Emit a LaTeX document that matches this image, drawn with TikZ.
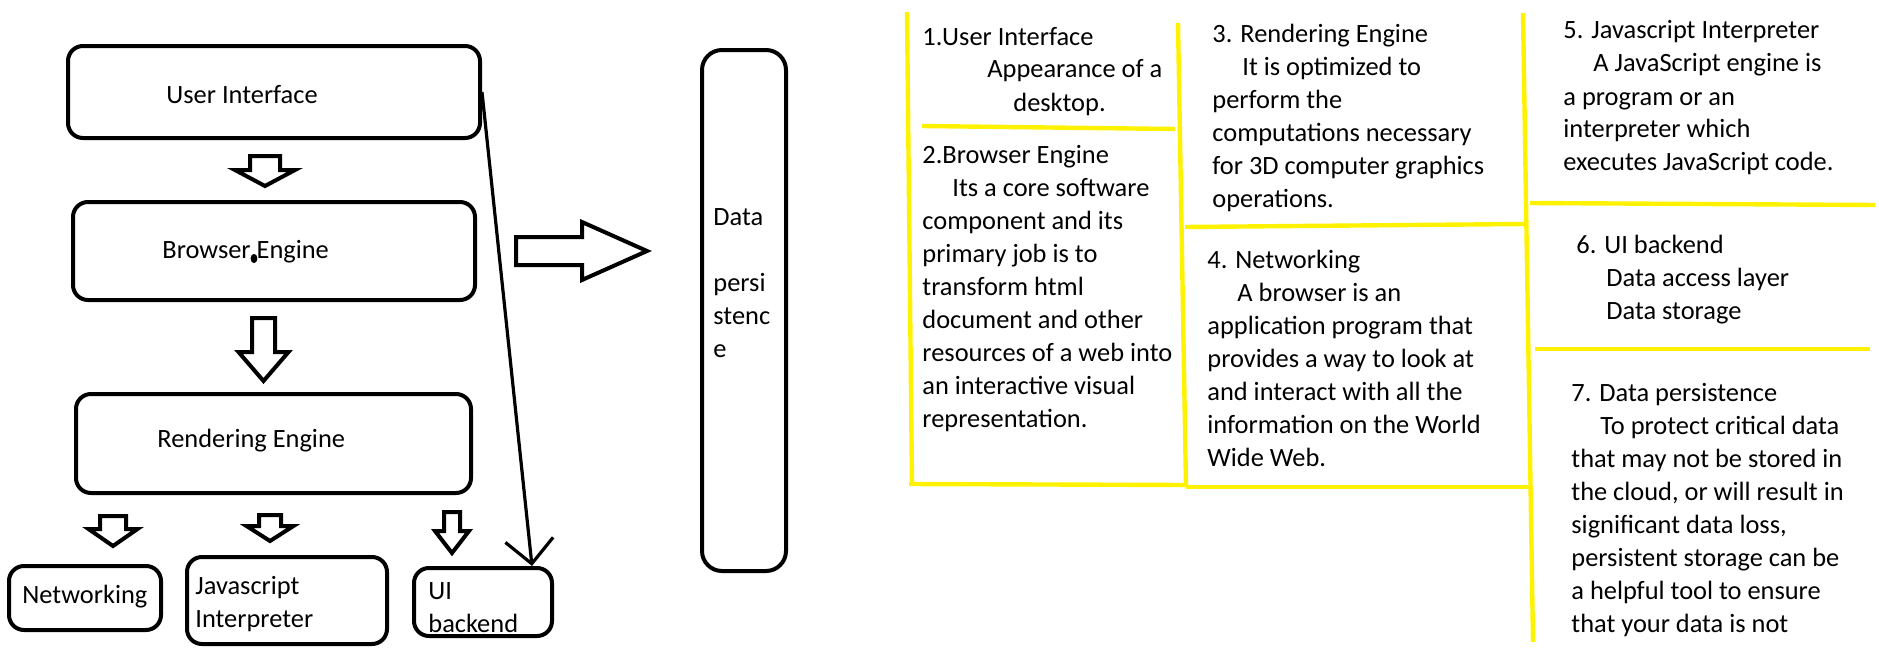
\documentclass[tikz,border=0pt]{standalone}
\usepackage{fontspec}
\setmainfont{Carlito}
\usetikzlibrary{calc,arrows.meta}
\definecolor{pyellow}{RGB}{255,242,0}
\newcommand\fs{\fontsize{13.2pt}{16.5pt}\selectfont}
\newcommand\para[1]{\vtop{\baselineskip=16.5pt\lineskiplimit=-100pt\lineskip=0pt #1}}
\newcommand\ind[1]{\hspace*{#1pt}}
% block arrow pointing down: #1 source anchor, #2 target anchor, #3 x offset, #4 top gap,
% #5 tip gap, #6 shaft half width, #7 head half width, #8 head length
\newcommand\blockdown[8]{%
 \coordinate (bdT) at ($(#1)+(#3,#4)$);
 \coordinate (bdX) at ($(#2)+(0,-#5)$);
 \coordinate (bdB) at (bdT |- bdX);
 \draw[blk] ($(bdT)+(-#6,0)$) -- ($(bdB)+(-#6,-#8)$) -- ($(bdB)+(-#7,-#8)$) -- (bdB)
   -- ($(bdB)+(#7,-#8)$) -- ($(bdB)+(#6,-#8)$) -- ($(bdT)+(#6,0)$) -- cycle;}
% block arrow pointing right
\newcommand\blockright[8]{%
 \coordinate (brL) at ($(#1)+(#4,#3)$);
 \coordinate (brX) at ($(#2)+(-#5,0)$);
 \coordinate (brT) at (brX |- brL);
 \draw[blk] ($(brL)+(0,-#6)$) -- ($(brT)+(-#8,-#6)$) -- ($(brT)+(-#8,-#7)$) -- (brT)
   -- ($(brT)+(-#8,#7)$) -- ($(brT)+(-#8,#6)$) -- ($(brL)+(0,#6)$) -- cycle;}

\begin{document}
\begin{tikzpicture}[x=0.5pt,y=-0.5pt,
 box/.style={draw,line width=2pt,rounded corners=7.5pt,inner sep=0pt},
 txt/.style={anchor=base west,inner sep=0pt,font=\fs},
 blk/.style={draw,line width=2pt,line join=miter},
 yl/.style={pyellow,line width=2.2pt},
]
\useasboundingbox (0,0) rectangle (1879,648);
\fill[white] (0,0) rectangle (1879,648);

% boxes
\node[box,minimum width=206pt,minimum height=46pt] (ui) at (274,92) {};
\node[box,minimum width=201pt,minimum height=49pt] (be) at (274,251) {};
\node[box,minimum width=197.5pt,minimum height=49.5pt] (re) at (273.5,443.5) {};
\node[box,minimum width=76pt,minimum height=32pt] (nw) at (85,598) {};
\node[box,minimum width=100pt,minimum height=43.5pt] (js) at (287,600.5) {};
\node[box,minimum width=69pt,minimum height=34pt] (ub) at (483,602) {};
\node[box,rounded corners=10pt,minimum width=42pt,minimum height=260.5pt] (dp) at (744,310.5) {};

% box texts
\node[txt] (tui) at (166,103) {User Interface};
\node[txt] (tbe) at (162,258) {Browser Engine};
\fill (254,258.5) ellipse [x radius=1.7pt, y radius=2.3pt];
\node[txt] (tre) at (157,447) {Rendering Engine};
\node[txt] (tnw) at (22,603) {Networking};
\node[txt] (tjs) at (195,594) {\para{\hbox{Javascript}\hbox{Interpreter}}};
\node[txt] (tub) at (428,599) {\para{\hbox{UI}\hbox{backend}}};
\node[txt] (tdp) at (713,225) {\para{\hbox{Data}\hbox{}\hbox{persi}\hbox{stenc}\hbox{e}}};

% block arrows
\blockdown{ui.south}{be.north}{-9}{16}{14}{15}{30}{16}
\blockdown{be.south}{re.north}{-10.5}{16}{11}{11.5}{25}{29}
\blockdown{re.south}{nw.north}{-160.5}{21}{18}{13}{24.5}{17}
\blockdown{re.south}{js.north}{-3.5}{20}{14}{11}{23.5}{15}
\blockdown{re.south}{ub.north}{178.5}{17}{13}{8}{17}{22}
\blockright{be.east}{dp.west}{0}{39}{53}{14}{29}{65}

% long connector
\draw[line width=1.6pt,-{Straight Barb[length=12pt,width=24pt]}] (ui.east) -- ($(ub.north)+(49,0)$);

% yellow grid
\draw[yl] (907,12) -- (912,485);
\draw[yl] (909,484) -- (1186,485);
\draw[yl] (922,126) -- (1175,129);
\draw[yl] (1178,23) -- (1186,487);
\draw[yl] (1185,227) -- (1525,224);
\draw[yl] (1186,487) -- (1531,487);
\draw[yl] (1523,13) -- (1533,642);
\draw[yl] (1530,203) -- (1875,205);
\draw[yl] (1535,349) -- (1870,349);

% panel texts
\node[txt] (p1) at (922,45) {\para{\hbox{1.User Interface}\hbox{\ind{32.5}Appearance of a}\hbox{\ind{45.5}desktop.}}};
\node[txt] (p2) at (922,163) {\para{\hbox{2.Browser Engine}\hbox{\ind{15}Its a core software}\hbox{component and its}\hbox{primary job is to}\hbox{transform html}\hbox{document and other}\hbox{resources of a web into}\hbox{an interactive visual}\hbox{representation.}}};
\node[txt] (p3) at (1212,42) {\para{\hbox{3. Rendering Engine}\hbox{\ind{15}It is optimized to}\hbox{perform the}\hbox{computations necessary}\hbox{for 3D computer graphics}\hbox{operations.}}};
\node[txt] (p4) at (1207,268) {\para{\hbox{4. Networking}\hbox{\ind{15}A browser is an}\hbox{application program that}\hbox{provides a way to look at}\hbox{and interact with all the}\hbox{information on the World}\hbox{Wide Web.}}};
\node[txt] (p5) at (1563,39) {\para{\hbox{5. Javascript Interpreter}\hbox{\ind{15}A JavaScript engine is}\hbox{a program or an}\hbox{interpreter which}\hbox{executes JavaScript code.}}};
\node[txt] (p6) at (1576,253) {\para{\hbox{6. UI backend}\hbox{\ind{15}Data access layer}\hbox{\ind{15}Data storage}}};
\node[txt] (p7) at (1571,401) {\para{\hbox{7. Data persistence}\hbox{\ind{14.5}To protect critical data}\hbox{that may not be stored in}\hbox{the cloud, or will result in}\hbox{significant data loss,}\hbox{persistent storage can be}\hbox{a helpful tool to ensure}\hbox{that your data is not}}};
\end{tikzpicture}
\end{document}
